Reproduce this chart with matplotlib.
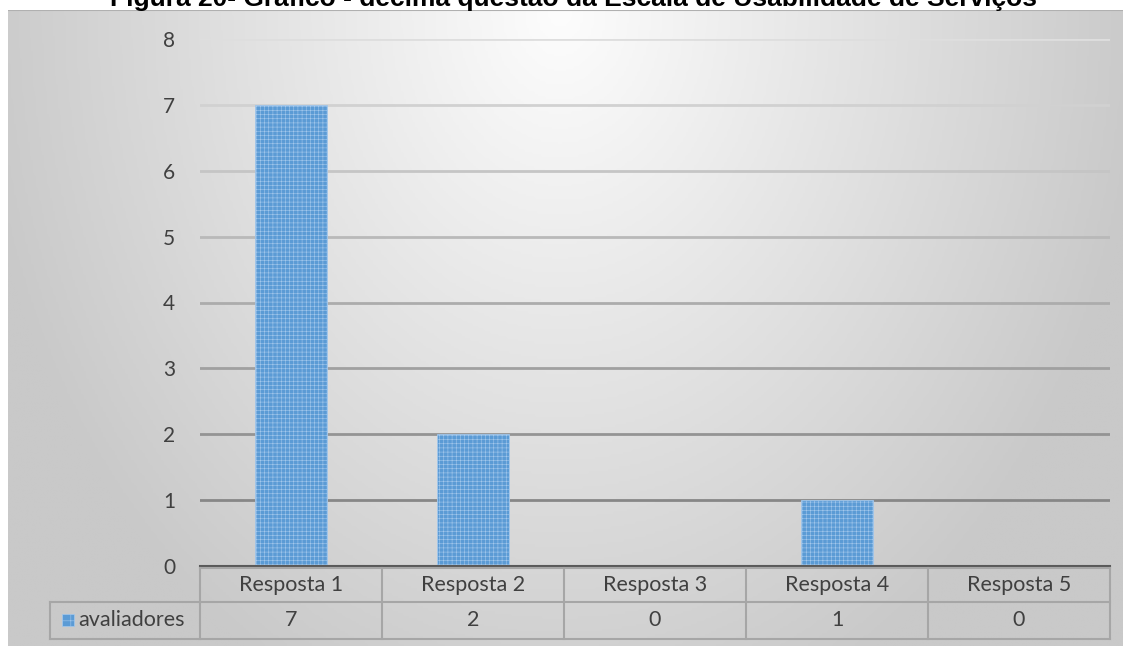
import numpy as np
import matplotlib.pyplot as plt
from matplotlib.colors import LinearSegmentedColormap

# data
categorias = ['Resposta 1', 'Resposta 2', 'Resposta 3', 'Resposta 4', 'Resposta 5']
avaliadores = [7, 2, 0, 1, 0]
serie = 'avaliadores'
titulo = 'Figura 20- Gráfico - décima questão da Escala de Usabilidade de Serviços'
yticks = [0, 1, 2, 3, 4, 5, 6, 7, 8]

W, H = 1123, 646
fig = plt.figure(figsize=(W / 100, H / 100), dpi=100)
fig.patch.set_facecolor('white')

# gradient background of the chart area
top_bg = 10
bg = fig.add_axes([8 / W, 0, 1 - 8 / W, (H - top_bg) / H])
bg.set_axis_off()
xx, yy = np.meshgrid(np.linspace(8, W, 400), np.linspace(top_bg, H, 250))
d = np.sqrt(((xx - 560) / 560) ** 2 + ((yy - top_bg) / 720) ** 2)
shade = np.clip(d, 0, 1.05)
cmap = LinearSegmentedColormap.from_list('g', ['#fdfdfd', '#c9c9c9'])
bg.imshow(shade, cmap=cmap, aspect='auto', extent=[0, 1, 0, 1], vmin=0, vmax=1.05)
bg.set_xlim(0, 1)
bg.set_ylim(0, 1)
bg.axhline(1, color='#b0b0b0', lw=1.5)

# title (cut off at the top as in the source)
fig.text(573 / W, 1 - 6 / H, titulo, ha='center', va='baseline',
         fontsize=19, fontweight='bold', family='Liberation Sans', color='black')

left, right, y0, y8 = 200, 1110, 566, 39
ax = fig.add_axes([left / W, 1 - y0 / H, (right - left) / W, (y0 - y8) / H])
ax.patch.set_alpha(0)

x = np.arange(len(categorias))
ax.set_xlim(-0.5, len(categorias) - 0.5)
ax.set_ylim(0, 8)

# gridlines, darker towards the bottom
for v in yticks[1:]:
    g = 0.53 + 0.34 * (v - 1) / 7
    ax.axhline(v, color=(g, g, g), lw=2, zorder=1)

plt.rcParams['hatch.linewidth'] = 0.4
ax.bar(x, avaliadores, width=0.4, color='#5b9bd5', edgecolor='#a4c8ec',
       hatch='++++', linewidth=0.6, zorder=2)

ax.set_yticks(yticks)
ax.set_yticklabels([str(v) for v in yticks], fontsize=15, family='Lato', color='#404040')
ax.tick_params(axis='y', length=0, pad=18)
ax.set_xticks([])
for s in ['top', 'right', 'left']:
    ax.spines[s].set_visible(False)
ax.spines['bottom'].set_color('#595959')
ax.spines['bottom'].set_linewidth(1.5)

# data table below the axis
tab = fig.add_axes([0, 0, 1, 1])
tab.set_axis_off()
tab.set_xlim(0, W)
tab.set_ylim(H, 0)
top, mid, bot = 568, 602, 639
cw = (right - left) / len(categorias)
lc = '#a6a6a6'
tab.plot([left, right], [top, top], color=lc, lw=1.5)
tab.plot([50, right], [mid, mid], color=lc, lw=1.5)
tab.plot([50, right], [bot, bot], color=lc, lw=1.5)
tab.plot([50, 50], [mid, bot], color=lc, lw=1.5)
for i in range(len(categorias) + 1):
    tab.plot([left + i * cw] * 2, [top, bot], color=lc, lw=1.5)
for i, (c, v) in enumerate(zip(categorias, avaliadores)):
    cx = left + (i + 0.5) * cw
    tab.text(cx, (top + mid) / 2, c, ha='center', va='center',
             fontsize=15.5, family='Lato', color='#404040')
    tab.text(cx, (mid + bot) / 2, str(v), ha='center', va='center',
             fontsize=15.5, family='Lato', color='#404040')
tab.add_patch(plt.Rectangle((62, 614), 12, 12, facecolor='#5b9bd5',
                            edgecolor='#a4c8ec', hatch='++', lw=0.5))
tab.text(78, (mid + bot) / 2, serie, ha='left', va='center',
         fontsize=15.5, family='Lato', color='#404040')

fig.savefig('out.png', dpi=100)
